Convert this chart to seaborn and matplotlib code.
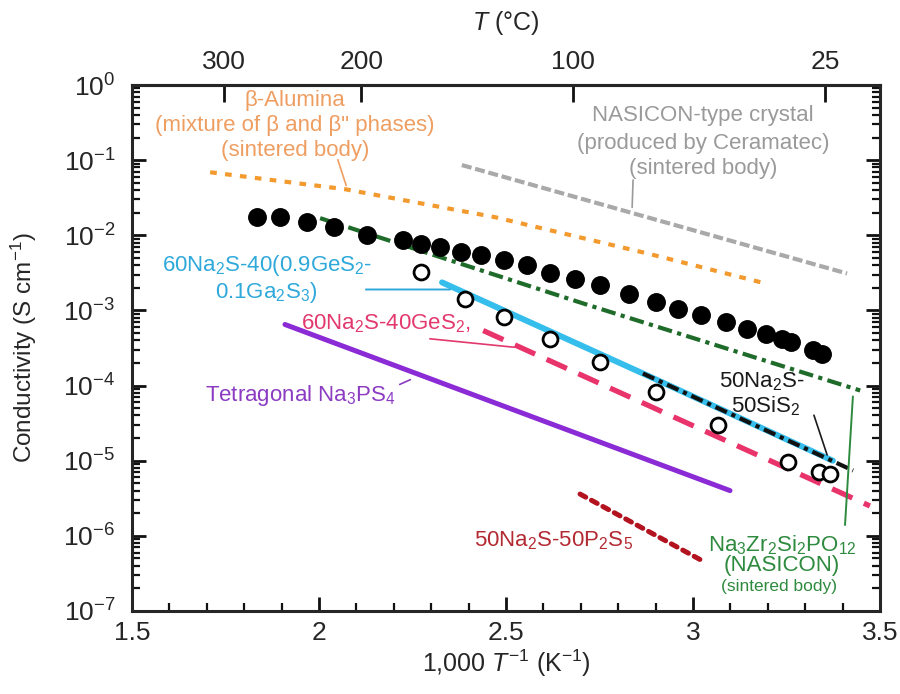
import numpy as np
import matplotlib
matplotlib.use("Agg")
import matplotlib.pyplot as plt
import matplotlib.ticker as mticker
import seaborn as sns

# ---- data: x = 1000/T (K^-1), y = conductivity (S cm^-1) ----
beta_x = [1.709, 2.070, 2.471, 2.877, 3.193]
beta_y = [6.9e-2, 4.1e-2, 1.74e-2, 5.75e-3, 2.29e-3]

ceram_x = [2.382, 3.412]
ceram_y = [8.6e-2, 3.1e-3]

nasicon_x = [2.003, 2.706, 3.447]
nasicon_y = [1.69e-2, 1.24e-3, 8.6e-5]

gega_x = [2.329, 2.866, 3.374]
gega_y = [2.36e-3, 1.45e-4, 1.0e-5]

sis_x = [2.866, 3.428]
sis_y = [1.45e-4, 7.4e-6]

ges_x = [2.439, 3.473]
ges_y = [5.4e-4, 2.5e-6]

nps_x = [1.909, 3.099]
nps_y = [6.5e-4, 4.0e-6]

pss_x = [2.698, 3.027]
pss_y = [3.6e-6, 4.6e-7]

filled_x = [1.835, 1.896, 1.968, 2.040, 2.129, 2.224, 2.273, 2.323, 2.379, 2.434,
            2.495, 2.556, 2.617, 2.684, 2.751, 2.828, 2.900, 2.961, 3.022, 3.089,
            3.144, 3.194, 3.238, 3.261, 3.320, 3.345]
filled_y = [1.75e-2, 1.75e-2, 1.51e-2, 1.27e-2, 1.0e-2, 8.57e-3, 7.74e-3, 6.98e-3, 6.0e-3, 5.41e-3,
            4.65e-3, 3.98e-3, 3.18e-3, 2.64e-3, 2.15e-3, 1.67e-3, 1.29e-3, 1.05e-3, 8.57e-4, 6.98e-4,
            5.70e-4, 4.89e-4, 4.19e-4, 3.78e-4, 2.95e-4, 2.65e-4]

open_x = [2.273, 2.390, 2.495, 2.617, 2.751, 2.900, 3.067, 3.255, 3.338, 3.366]
open_y = [3.24e-3, 1.43e-3, 8.15e-4, 4.19e-4, 2.05e-4, 8.15e-5, 2.99e-5, 9.7e-6, 6.98e-6, 6.64e-6]

xtick_vals = [1.5, 2.0, 2.5, 3.0, 3.5]
xtick_labels = ["1.5", "2", "2.5", "3", "3.5"]
top_ticks_c = [300, 200, 100, 25]
top_labels = ["300", "200", "100", "25"]

# ---- style ----
sns.set_theme(style="ticks")
plt.rcParams['font.family'] = ['Liberation Sans', 'DejaVu Sans']
plt.rcParams['mathtext.fontset'] = 'custom'
plt.rcParams['mathtext.rm'] = 'Liberation Sans'
plt.rcParams['mathtext.it'] = 'Liberation Sans:italic'
plt.rcParams['mathtext.bf'] = 'Liberation Sans:bold'
plt.rcParams['mathtext.default'] = 'regular'

fig = plt.figure(figsize=(9, 6.94), dpi=100)
ax = fig.add_axes([132 / 900, 1 - 611 / 694, 748 / 900, 526 / 694])


def draw(x, y, color, lw, ls, z=2, **kw):
    sns.lineplot(x=x, y=y, ax=ax, color=color, lw=lw, linestyle=ls,
                 estimator=None, sort=False, legend=False, zorder=z, **kw)


draw(beta_x, beta_y, '#F39A2E', 3.0, (0, (1.6, 2.0)))
draw(ceram_x, ceram_y, '#A9A9A9', 3.0, (0, (2.4, 0.9)))
draw(nasicon_x, nasicon_y, '#1F6B2A', 3.0, (0, (3.5, 1.3, 1.0, 1.3)))
draw(gega_x, gega_y, '#35BDEB', 4.3, '-')
draw(sis_x, sis_y, '#111111', 3.0, (0, (3.0, 1.2, 1.0, 1.2)), z=3)
draw(ges_x, ges_y, '#E8336B', 3.8, (0, (4.2, 2.4)))
draw(nps_x, nps_y, '#8A2BD6', 3.6, '-')
draw(pss_x, pss_y, '#B3121F', 3.6, (0, (1.3, 1.3)), dash_capstyle='round')

sns.scatterplot(x=filled_x, y=filled_y, ax=ax, s=185, color='black',
                edgecolor='black', linewidth=0, zorder=4, legend=False)
sns.scatterplot(x=open_x, y=open_y, ax=ax, s=115, color='white',
                edgecolor='black', linewidth=2.0, zorder=5, legend=False)

# ---- axes ----
ax.set_yscale('log')
ax.set_xlim(1.5, 3.5)
ax.set_ylim(1e-7, 1)
ax.set_xticks(xtick_vals, xtick_labels)
ax.set_xticks(np.arange(1.6, 3.45, 0.1), minor=True)
ax.set_yticks([10.0 ** k for k in range(-7, 1)])
ax.set_yticks([m * 10.0 ** k for k in range(-7, 0) for m in range(2, 10)], minor=True)
ax.yaxis.set_minor_formatter(mticker.NullFormatter())
ax.set_ylim(1e-7, 1)
ax.tick_params(which='both', direction='in', top=False, right=True, color='#111111')
ax.tick_params(which='major', length=10, width=2.0, labelsize=19)
ax.tick_params(which='minor', length=6, width=1.6)
ax.tick_params(axis='y', pad=12)
ax.tick_params(axis='x', pad=7)
for sp in ax.spines.values():
    sp.set_linewidth(2.2)
ax.grid(False)

ax.set_ylabel('Conductivity (S cm$^{-1}$)', fontsize=17.5)
ax.yaxis.set_label_coords(-0.124, 0.5)
ax.set_xlabel('1,000 $\\mathit{T}^{-1}$ (K$^{-1}$)', fontsize=18)
ax.xaxis.set_label_coords(0.5, -0.07)


def inv_to_c(x):
    x = np.asarray(x, float)
    with np.errstate(divide='ignore'):
        return 1000.0 / x - 273.15


def c_to_inv(t):
    t = np.asarray(t, float)
    with np.errstate(divide='ignore'):
        return 1000.0 / (t + 273.15)


sec = ax.secondary_xaxis('top', functions=(inv_to_c, c_to_inv))
sec.set_xticks(top_ticks_c, top_labels)
sec.xaxis.set_minor_locator(mticker.NullLocator())
sec.tick_params(direction='in', length=12, width=2.0, labelsize=19, pad=8, color='#111111')
sec.spines['top'].set_linewidth(2.2)
sec.set_xlabel('$\\mathit{T}$ (°C)', fontsize=18, labelpad=14)

# ---- annotations ----
c_or, c_gr, c_cy = '#EF9E62', '#9A9A9A', '#2FA9DA'
c_pk, c_pu, c_dr, c_gn = '#E3386E', '#8B3CC2', '#B32A33', '#2E8A3E'
fs = 16

ax.text(1.936, 0.631, 'β-Alumina', color=c_or, fontsize=fs, ha='center', va='center')
ax.text(1.936, 0.293, '(mixture of β and β" phases)', color=c_or, fontsize=fs, ha='center', va='center')
ax.text(1.936, 0.136, '(sintered body)', color=c_or, fontsize=fs, ha='center', va='center')
ax.annotate('', xy=(2.075, 0.0424), xytext=(2.048, 0.110),
            arrowprops=dict(arrowstyle='-', color=c_or, lw=1.2))

ax.text(3.027, 0.398, 'NASICON-type crystal', color=c_gr, fontsize=fs, ha='center', va='center')
ax.text(3.027, 0.169, '(produced by Ceramatec)', color=c_gr, fontsize=fs, ha='center', va='center')
ax.text(3.027, 0.0782, '(sintered body)', color=c_gr, fontsize=fs, ha='center', va='center')
ax.annotate('', xy=(2.837, 0.0216), xytext=(2.840, 0.0593),
            arrowprops=dict(arrowstyle='-', color=c_gr, lw=1.2))

ax.text(1.861, 3.98e-3, '60Na$_2$S-40(0.9GeS$_2$-', color=c_cy, fontsize=fs, ha='center', va='center')
ax.text(1.858, 1.74e-3, '0.1Ga$_2$S$_3$)', color=c_cy, fontsize=fs, ha='center', va='center')
ax.annotate('', xy=(2.358, 1.9e-3), xytext=(2.118, 1.9e-3),
            arrowprops=dict(arrowstyle='-', color=c_cy, lw=1.4))

ax.text(2.179, 6.7e-4, '60Na$_2$S-40GeS$_2$,', color=c_pk, fontsize=fs, ha='center', va='center')
ax.annotate('', xy=(2.529, 3.21e-4), xytext=(2.289, 4.23e-4),
            arrowprops=dict(arrowstyle='-', color=c_pk, lw=1.2))

ax.text(1.949, 7.36e-5, 'Tetragonal Na$_3$PS$_4$', color=c_pu, fontsize=fs, ha='center', va='center')
ax.annotate('', xy=(2.251, 1.24e-4), xytext=(2.209, 1.0e-4),
            arrowprops=dict(arrowstyle='-', color=c_pu, lw=1.2))

ax.text(3.184, 1.13e-4, '50Na$_2$S-', color='#1a1a1a', fontsize=fs, ha='center', va='center')
ax.text(3.195, 5.25e-5, '50SiS$_2$', color='#1a1a1a', fontsize=fs, ha='center', va='center')
ax.annotate('', xy=(3.361, 1.1e-5), xytext=(3.321, 4.37e-5),
            arrowprops=dict(arrowstyle='-', color='#1a1a1a', lw=1.2))

ax.text(2.626, 8.6e-7, '50Na$_2$S-50P$_2$S$_5$', color=c_dr, fontsize=fs, ha='center', va='center')

ax.text(3.238, 7.6e-7, 'Na$_3$Zr$_2$Si$_2$PO$_{12}$', color=c_gn, fontsize=fs, ha='center', va='center')
ax.text(3.238, 4.0e-7, '(NASICON)', color=c_gn, fontsize=fs, ha='center', va='center')
ax.text(3.23, 2.09e-7, '(sintered body)', color=c_gn, fontsize=12.5, ha='center', va='center')
ax.annotate('', xy=(3.406, 1.28e-6), xytext=(3.428, 7.8e-5),
            arrowprops=dict(arrowstyle='-', color=c_gn, lw=1.4))

fig.savefig('out.png', dpi=100)
